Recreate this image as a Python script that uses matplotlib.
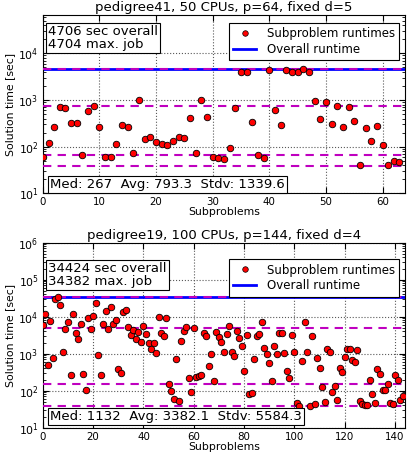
import numpy as np
import matplotlib
matplotlib.use('Agg')
import matplotlib.pyplot as plt

#------------------------------------------#
# Data
top_title = 'pedigree41, 50 CPUs, p=64, fixed d=5'
top_runtimes = [60, 122, 270, 700, 680, 314, 325, 66, 585, 745,
                262, 60, 59, 112, 285, 268, 74, 990, 143, 158,
                126, 114, 110, 130, 158, 155, 420, 73, 990, 428,
                60, 58, 55, 95, 665, 4060, 4000, 335, 67, 57,
                4350, 600, 294, 4400, 4000, 3950, 4704, 4070, 935, 387,
                920, 304, 757, 267, 700, 352, 40, 250, 132, 280,
                109, 41, 48, 46]
top_overall = 4706
top_lines = [4704, 735, 66, 39]
top_info = '4706 sec overall\n4704 max. job'
top_stats = 'Med: 267  Avg: 793.3  Stdv: 1339.6'

bot_title = 'pedigree19, 100 CPUs, p=144, fixed d=4'
bot_runtimes = [5900, 11800, 490, 7600, 750, 29500, 34382, 20500, 1110, 4550,
                7000, 265, 11800, 3600, 2550, 6450, 280, 107, 9200, 4800,
                10400, 24000, 940, 260, 6200, 14500, 4800, 18700, 6450, 8300,
                380, 295, 13700, 14800, 5150, 3300, 4450, 2450, 3900, 2030,
                5500, 3400, 1940, 1310, 1940, 1040, 9600, 3540, 2940, 9000,
                150, 100, 59, 700, 54, 2240, 4100, 5300, 218, 92,
                5050, 230, 255, 265, 3550, 3000, 475, 1000, 187, 3920,
                2770, 2020, 1090, 3400, 5700, 1130, 865, 4200, 2650, 1600,
                350, 3300, 83, 88, 720, 3100, 3450, 7200, 1430, 1000,
                570, 180, 1650, 980, 3550, 3700, 1050, 340, 225, 3200,
                1100, 47, 39, 630, 7000, 1100, 39, 3100, 44, 760,
                420, 130, 49, 1350, 1140, 95, 132, 56, 410, 315,
                820, 1340, 1340, 665, 600, 1230, 54, 43, 41, 41,
                200, 82, 47, 376, 281, 102, 104, 155, 47, 45,
                262, 198, 56, 71]
bot_overall = 34424
bot_lines = [34382, 4900, 148, 39]
bot_info = '34424 sec overall\n34382 max. job'
bot_stats = 'Med: 1132  Avg: 3382.1  Stdv: 5584.3'

#------------------------------------------#
plt.rcParams['font.family'] = 'DejaVu Sans'
plt.rcParams['xtick.direction'] = 'in'
plt.rcParams['ytick.direction'] = 'in'
plt.rcParams['xtick.top'] = True
plt.rcParams['ytick.right'] = True
plt.rcParams['xtick.labelsize'] = 7.4
plt.rcParams['ytick.labelsize'] = 7.8
plt.rcParams['xtick.major.size'] = 4
plt.rcParams['ytick.major.size'] = 4
plt.rcParams['ytick.minor.size'] = 2
plt.rcParams['xtick.major.pad'] = 3
plt.rcParams['ytick.major.pad'] = 3


def draw_panel(ax, title, runtimes, overall, lines, info, stats, xmax, ymax, xstep,
               top_off, stats_y):
    x = np.arange(len(runtimes))
    ax.axhline(overall, color='b', lw=2, zorder=2)
    for v in lines:
        ax.axhline(v, color='m', ls='--', lw=1.5, dashes=(4, 3), zorder=3)
    ax.plot(x, runtimes, 'o', color='r', markeredgecolor='k', markeredgewidth=0.6,
            markersize=4.7, zorder=4)
    # legend proxies
    h1, = ax.plot([], [], 'o', color='r', markeredgecolor='k', markeredgewidth=0.5,
                  markersize=4)
    h2, = ax.plot([], [], color='b', lw=2)
    leg = ax.legend([h1, h2], ['Subproblem runtimes', 'Overall runtime'],
                    loc='upper right', bbox_to_anchor=(0.984, top_off),
                    numpoints=1, fancybox=False, fontsize=8.5,
                    framealpha=1, edgecolor='k', borderaxespad=0,
                    borderpad=0.35, labelspacing=0.25, handletextpad=0.9)
    leg.get_frame().set_linewidth(0.8)
    leg.set_zorder(6)

    ax.set_yscale('log')
    ax.set_xlim(0, xmax)
    ax.set_ylim(10, ymax)
    ax.set_xticks(np.arange(0, xmax, xstep))
    ax.grid(True, which='major', color='0.35', ls=':', lw=0.8)
    ax.set_axisbelow(True)
    ax.set_title(title, fontsize=9.5, pad=3)
    ax.set_xlabel('Subproblems', fontsize=7.8, labelpad=0)
    ax.set_ylabel('Solution time [sec]', fontsize=7.8, labelpad=2)

    box = dict(facecolor='white', edgecolor='k', boxstyle='square,pad=0.15', lw=0.8)
    ax.text(0.015, top_off - 0.012, info, transform=ax.transAxes, fontsize=9.5,
            va='top', ha='left', linespacing=1.0, bbox=box, zorder=6)
    ax.text(0.02, stats_y, stats, transform=ax.transAxes, fontsize=9.5, va='bottom',
            ha='left', bbox=box, zorder=6)


fig = plt.figure(figsize=(4.08, 4.58), dpi=100)
ax1 = fig.add_axes([0.105, 0.578, 0.888, 0.389])
ax2 = fig.add_axes([0.105, 0.066, 0.888, 0.404])

draw_panel(ax1, top_title, top_runtimes, top_overall, top_lines, top_info, top_stats,
           64, 6.6e4, 10, 0.958, 0.012)
draw_panel(ax2, bot_title, bot_runtimes, bot_overall, bot_lines, bot_info, bot_stats,
           144, 1e6, 20, 0.91, 0.024)

fig.savefig('out.png', dpi=100, facecolor='white')
